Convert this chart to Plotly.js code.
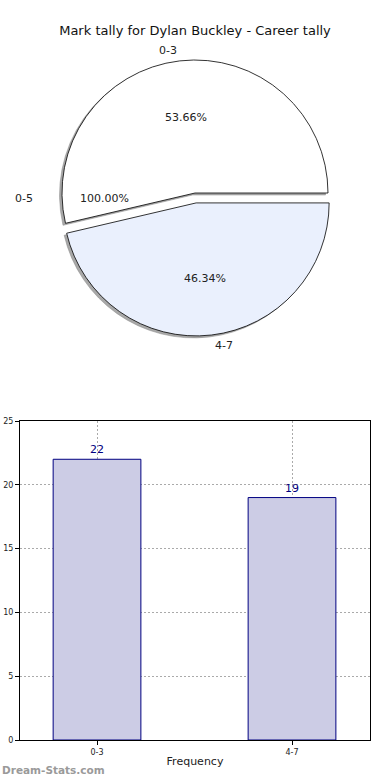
<!DOCTYPE html>
<html>
<head>
<meta charset="utf-8">
<script src="https://cdn.plot.ly/plotly-3.0.1.min.js"></script>
<style>html,body{margin:0;padding:0;background:#fff;}#chart{width:390px;height:780px;}</style>
</head>
<body>
<div id="chart"></div>
<script>
// ---- data ----
const chartTitle = 'Mark tally for Dylan Buckley - Career tally';
const pieLabels = ['0-3', '4-7'];
const pieValues = [22, 19];
const piePull = [0, 0.075];
const pieColors = ['#ffffff', '#eaf0fd'];
const oddLabel = '0-5';
const oddPercent = '100.00%';
const barCategories = ['0-3', '4-7'];
const barValues = [22, 19];
const xTitle = 'Frequency';
const watermark = 'Dream-Stats.com';

// ---- geometry helpers (pixel -> paper) ----
const W = 390, H = 780, ML = 20, MR = 20, MT = 0, MB = 40;
const PW = W - ML - MR, PH = H - MT - MB;
const px2x = p => (p - ML) / PW;
const py2y = p => (H - MB - p) / PH;

const cx = 195, cy = 193, R = 133;
const maxPull = Math.max(...piePull);
const half = R * (1 + maxPull);
const pieDomX = [px2x(cx - half), px2x(cx + half)];
const pieDomY = [py2y(cy + half), py2y(cy - half)];
const shX = -2.5, shY = 2;

const font = 'DejaVu Sans, sans-serif';
const total = pieValues.reduce((a, b) => a + b, 0);
// first slice ends at 3 o'clock, drawn upward (counterclockwise like matplotlib startangle 0)
const rot = 90 - 360 * pieValues[0] / total;

const shadow = {
  type: 'pie', labels: pieLabels, values: pieValues, sort: false,
  direction: 'counterclockwise', rotation: rot, pull: piePull,
  marker: {colors: ['#a8a8a8', '#a8a8a8'], line: {color: '#888', width: 0.5}},
  textinfo: 'none', hoverinfo: 'skip', showlegend: false,
  domain: {x: [pieDomX[0] + shX / PW, pieDomX[1] + shX / PW], y: [pieDomY[0] - shY / PH, pieDomY[1] - shY / PH]}
};
const pie = {
  type: 'pie', labels: pieLabels, values: pieValues, sort: false,
  direction: 'counterclockwise', rotation: rot, pull: piePull,
  marker: {colors: pieColors, line: {color: '#000', width: 0.8}},
  textinfo: 'none', hoverinfo: 'label+percent', showlegend: false,
  domain: {x: pieDomX, y: pieDomY}
};
const bars = {
  type: 'bar', x: barCategories, y: barValues, width: 0.45,
  marker: {color: 'rgb(204,204,229)', line: {color: '#000080', width: 1}},
  text: barValues.map(String), textposition: 'outside', cliponaxis: false,
  textfont: {color: '#000080', size: 11, family: font},
  showlegend: false, hoverinfo: 'x+y'
};

// pie annotations computed from data (matplotlib-like placement)
const annotations = [];
let start = 0;
pieValues.forEach((v, i) => {
  const span = v / total * 360;
  const mid = (start + span / 2) * Math.PI / 180;
  const pp = piePull[i] * R;
  const c = Math.cos(mid), s = Math.sin(mid);
  const pctX = cx + c * (0.57 * R + pp), pctY = cy - s * (0.57 * R + pp);
  const labX = cx + c * (1.08 * R + pp), labY = cy - s * (1.08 * R + pp);
  annotations.push({xref: 'paper', yref: 'paper', x: px2x(pctX), y: py2y(pctY), text: (v / total * 100).toFixed(2) + '%',
    showarrow: false, xanchor: 'center', yanchor: 'middle', font: {family: font, size: 11, color: '#222'}});
  annotations.push({xref: 'paper', yref: 'paper', x: px2x(labX), y: py2y(labY), text: pieLabels[i],
    showarrow: false, xanchor: c < 0 ? 'right' : 'left', yanchor: 'middle', font: {family: font, size: 11, color: '#222'}});
  start += span;
});
annotations.push({xref: 'paper', yref: 'paper', x: px2x(cx - 1.2 * R), y: py2y(198), text: oddLabel,
  showarrow: false, xanchor: 'right', yanchor: 'middle', font: {family: font, size: 11, color: '#222'}});
annotations.push({xref: 'paper', yref: 'paper', x: px2x(cx - 0.68 * R), y: py2y(198), text: oddPercent,
  showarrow: false, xanchor: 'center', yanchor: 'middle', font: {family: font, size: 11, color: '#222'}});
annotations.push({xref: 'paper', yref: 'paper', x: px2x(0), y: py2y(770), text: '<b>' + watermark + '</b>',
  showarrow: false, xanchor: 'left', yanchor: 'middle', font: {family: font, size: 10.5, color: '#9a9a9a'}});

const layout = {
  width: W, height: H,
  margin: {l: ML, r: MR, t: MT, b: MB},
  paper_bgcolor: '#fff', plot_bgcolor: '#fff',
  font: {family: font, color: '#222'},
  title: {text: chartTitle, x: 0.5, xref: 'container', y: 1 - 30 / H, yref: 'container', yanchor: 'middle', xanchor: 'center',
    font: {family: font, size: 13, color: '#111'}},
  xaxis: {type: 'category', range: [-0.395, 1.4], domain: [0, 1],
    showgrid: true, gridcolor: '#aaaaaa', griddash: '2px,2px', gridwidth: 1,
    showline: true, linecolor: '#000', linewidth: 1, mirror: true,
    ticks: 'outside', ticklen: 4, tickcolor: '#000', tickfont: {size: 8, family: font, color: '#222'},
    title: {text: xTitle, font: {size: 11, family: font, color: '#222'}, standoff: 1},
    zeroline: false, fixedrange: true},
  yaxis: {range: [0, 25], dtick: 5, domain: [0, py2y(421)],
    showgrid: true, gridcolor: '#aaaaaa', griddash: '2px,2px', gridwidth: 1,
    showline: true, linecolor: '#000', linewidth: 1, mirror: true,
    ticks: 'outside', ticklen: 4, tickcolor: '#000', tickfont: {size: 8, family: font, color: '#222'},
    zeroline: false, fixedrange: true},
  bargap: 0,
  annotations: annotations
};

Plotly.newPlot('chart', [shadow, pie, bars], layout, {staticPlot: true, displayModeBar: false});
</script>
</body>
</html>
